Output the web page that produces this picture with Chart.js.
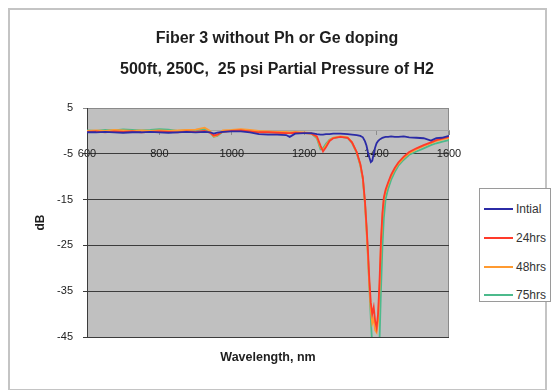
<!DOCTYPE html>
<html>
<head>
<meta charset="utf-8">
<script src="https://cdn.jsdelivr.net/npm/chart.js@4/dist/chart.umd.min.js"></script>
<style>
  body { margin: 0; background: #fff; font-family: "Liberation Sans", Arial, sans-serif; }
  #wrap { position: relative; width: 554px; height: 390px; overflow: hidden; }
  #frame { position: absolute; left: 8px; top: 8px; width: 535px; height: 379px; border: 2px solid #c4c4c4; }
  #title { position: absolute; left: 0; top: 22px; width: 554px; text-align: center; font-weight: bold; font-size: 16px; line-height: 31px; color: #1e1e1e; }
  #xtitle { position: absolute; left: 87px; width: 362px; top: 350px; text-align: center; font-weight: bold; font-size: 12.5px; color: #1e1e1e; }
  #legend { position: absolute; left: 479px; top: 188px; width: 72px; height: 114px; border: 1px solid #9a9a9a; background: #fff; box-sizing: border-box; padding-top: 6px; }
  .item { height: 28.7px; display: flex; align-items: center; font-size: 12px; color: #333; }
  .item span.ln { display: inline-block; width: 29px; height: 2px; margin: 0 3px 0 4px; }
  canvas { position: absolute; left: 0; top: 0; }
</style>
</head>
<body>
<div id="wrap">
  <div id="frame"></div>
  <canvas id="chart" width="554" height="390"></canvas>
  <div id="title">Fiber 3 without Ph or Ge doping<br>500ft, 250C,&nbsp; 25 psi Partial Pressure of H2</div>
  <div id="xtitle">Wavelength, nm</div>
  <div id="legend"></div>
</div>
<script>
// longueurs d'onde (nm) communes aux 4 courbes
const wavelengths = [600, 625, 650, 675, 700, 725, 750, 775, 800, 825, 850, 875, 900, 925, 940, 950, 960, 975,
  1000, 1025, 1050, 1075, 1100, 1125, 1150, 1160, 1175, 1200, 1220, 1235, 1245, 1252, 1260, 1270, 1280, 1300,
  1320, 1332, 1345, 1355, 1362, 1368, 1372, 1376, 1380, 1384, 1388, 1392, 1396, 1400, 1404, 1408, 1412, 1416,
  1420, 1425, 1432, 1440, 1450, 1460, 1475, 1490, 1510, 1530, 1550, 1565, 1580, 1600];

const seriesNames = ["Intial", "24hrs", "48hrs", "75hrs"];
const seriesColors = ["#2b2ba6", "#ff3a2a", "#ff9a30", "#4cba8c"];

const intial = [-0.3, -0.3, -0.2, -0.3, -0.4, -0.3, -0.3, -0.2, -0.3, -0.4, -0.3, -0.2, -0.3, -0.2, -0.3, -0.6, -0.4, -0.2,
  -0.1, -0.1, -0.3, -0.7, -0.8, -0.8, -0.9, -1.3, -0.6, -0.5, -0.5, -0.7, -0.8, -0.8, -0.7, -0.7, -0.6, -0.6,
  -0.7, -0.8, -0.9, -1.1, -1.4, -2.3, -3.2, -4.6, -5.8, -6.8, -6.5, -5.0, -3.6, -2.7, -2.2, -1.9, -1.7, -1.5,
  -1.4, -1.3, -1.3, -1.2, -1.3, -1.3, -1.2, -1.4, -1.5, -1.6, -2.1, -1.6, -1.5, -1.1];

const hrs24 = [-0.2, -0.1, -0.3, -0.1, -0.2, -0.1, -0.3, -0.2, -0.1, -0.2, -0.3, -0.1, -0.2, 0.0, -0.4, -1.0, -0.8, -0.2,
  0.0, 0.1, -0.1, -0.3, -0.3, -0.4, -0.5, -0.5, -0.4, -0.5, -0.6, -1.2, -3.2, -4.5, -3.6, -2.2, -1.6, -1.3,
  -1.5, -2.5, -4.6, -7.2, -10.2, -15.5, -20.5, -26, -32.5, -37.5, -40, -38.5, -41.5, -43, -40, -33, -24, -18,
  -14.5, -12.8, -11.2, -9.6, -8.1, -6.9, -5.6, -4.6, -3.8, -3.1, -2.5, -2.0, -1.7, -1.3];

const hrs48 = [0.0, 0.1, 0.0, 0.2, 0.1, 0.0, 0.1, 0.0, 0.1, 0.0, 0.1, 0.2, 0.3, 0.7, 0.0, -1.2, -1.0, 0.1,
  0.2, 0.4, 0.2, 0.0, -0.1, -0.2, -0.2, -0.3, -0.2, -0.3, -0.5, -1.4, -3.6, -4.2, -3.2, -2.0, -1.5, -1.2,
  -1.4, -2.5, -4.7, -7.4, -10.5, -16, -21.5, -27.5, -34, -39, -42, -41, -43.5, -44, -41.5, -34.5, -25, -18.8,
  -15, -13.2, -11.6, -9.9, -8.4, -7.2, -5.9, -4.9, -4.0, -3.3, -2.7, -2.2, -1.9, -1.5];

const hrs75 = [0.1, 0.0, 0.2, 0.1, 0.3, 0.2, 0.1, 0.2, 0.4, 0.3, 0.0, 0.1, 0.2, 0.4, -0.3, -1.3, -1.1, -0.2,
  0.1, 0.2, 0.0, -0.2, -0.3, -0.3, -0.4, -0.4, -0.4, -0.5, -0.6, -1.6, -4.0, -3.8, -2.8, -1.9, -1.5, -1.3,
  -1.5, -2.6, -4.8, -7.5, -10.5, -16, -21, -27, -34, -41, -47, -50, -50, -50, -49, -46, -35, -25.5,
  -19, -14.8, -12.6, -10.7, -9, -7.6, -6.3, -5.2, -4.5, -3.8, -3.1, -2.7, -2.4, -2.0];

const yTicks = { min: -45, max: 5, step: 10 };
const xTicks = { min: 600, max: 1600, step: 200 };

const allValues = [intial, hrs24, hrs48, hrs75];

const datasets = allValues.map((vals, i) => ({
  label: seriesNames[i],
  data: wavelengths.map((w, k) => ({ x: w, y: vals[k] })),
  borderColor: seriesColors[i],
  backgroundColor: seriesColors[i],
  borderWidth: 1.8,
  pointRadius: 0,
  tension: 0
}));

// fond gris de la zone de tracé
const plotBg = {
  id: "plotBg",
  beforeDraw(chart) {
    const { ctx, chartArea: a } = chart;
    ctx.save();
    ctx.fillStyle = "#c0c0c0";
    ctx.fillRect(a.left, a.top, a.right - a.left, a.bottom - a.top);
    ctx.strokeStyle = "#8a8a8a";
    ctx.lineWidth = 1;
    ctx.strokeRect(a.left + 0.5, a.top + 0.5, a.right - a.left - 1, a.bottom - a.top);
    ctx.restore();
  }
};

const chart = new Chart(document.getElementById("chart"), {
  type: "line",
  data: { datasets },
  options: {
    responsive: false,
    animation: false,
    devicePixelRatio: 1,
    layout: { padding: { left: 0, right: 105, top: 108, bottom: 53 } },
    plugins: { legend: { display: false }, title: { display: false }, tooltip: { enabled: false } },
    scales: {
      x: {
        type: "linear",
        position: { y: 0 },
        min: xTicks.min, max: xTicks.max,
        grid: { drawOnChartArea: false, drawTicks: true, tickLength: 4, color: "#8c8c8c" },
        border: { color: "#a4a4a4", width: 1 },
        ticks: { stepSize: xTicks.step, padding: 12, color: "#222", font: { family: "Liberation Sans, Arial", size: 11 }, maxRotation: 0,
          callback: v => String(v) },
        afterFit(scale) { scale.height = 0; }
      },
      y: {
        min: yTicks.min, max: yTicks.max,
        grid: {
          color: ctx => ctx.tick && ctx.tick.value === yTicks.max ? "#8a8a8a" : "#3c3c3c",
          tickLength: 4
        },
        border: { color: "#3c3c3c", width: 1 },
        ticks: { stepSize: yTicks.step, padding: 10, color: "#222", font: { family: "Liberation Sans, Arial", size: 11 } },
        title: { display: true, text: "dB", color: "#1e1e1e", font: { family: "Liberation Sans, Arial", size: 12, weight: "bold" }, padding: { top: 33, bottom: 0 } },
        afterFit(scale) { scale.width = 87; }
      }
    }
  },
  plugins: [plotBg]
});

// légende à droite, construite à partir des séries
const legendEl = document.getElementById("legend");
chart.data.datasets.forEach(ds => {
  const row = document.createElement("div");
  row.className = "item";
  row.innerHTML = '<span class="ln" style="background:' + ds.borderColor + '"></span>' + ds.label;
  legendEl.appendChild(row);
});
</script>
</body>
</html>
